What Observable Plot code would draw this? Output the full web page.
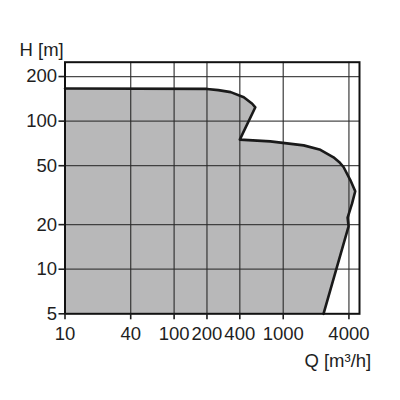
<!DOCTYPE html>
<html><head><meta charset="utf-8">
<script src="https://cdn.jsdelivr.net/npm/d3@7"></script>
<script src="https://cdn.jsdelivr.net/npm/@observablehq/plot@0.6"></script>
<style>body{margin:0;background:#fff}</style>
</head><body><div id="chart"></div>
<script>
// Boundary of the operating range (Q in m³/h, H in m)
const qValues = [10, 200, 254, 330, 435, 520, 555, 400, 760, 1540, 2190, 2890, 3250, 3570, 4120, 4570, 4270, 3890, 3970, 2340];
const hValues = [166, 165, 162, 157, 145, 131, 124, 75, 73, 68.6, 64, 57, 53, 49, 40, 33.6, 27.7, 22.3, 19.5, 5];
const xTicks = [10, 40, 100, 200, 400, 1000, 4000];
const yTicks = [5, 10, 20, 50, 100, 200];
const xGrid = [40, 100, 200, 400, 1000, 4000];
const yGrid = [10, 20, 50, 100, 200];
const xDomain = [10, 5000];
const yDomain = [5, 250];
const xLabel = "Q [m³/h]";
const yLabel = "H [m]";

const curve = qValues.map((q, i) => ({q, h: hValues[i]}));
const polygon = [...curve, {q: xDomain[0], h: yDomain[0]}];

const font = "Liberation Sans, Arial, Helvetica, sans-serif";
const fs = 18.5;
const chart = Plot.plot({
  width: 400, height: 400,
  marginLeft: 64.5, marginRight: 41, marginTop: 61.7, marginBottom: 86.7,
  style: {fontFamily: font, fontSize: fs + "px", color: "#1e1e1e", background: "#fff"},
  x: {type: "log", domain: xDomain},
  y: {type: "log", domain: yDomain},
  marks: [
    Plot.line(polygon, {x: "q", y: "h", fill: "#b8b8b9", stroke: "none"}),
    Plot.gridX(xGrid, {stroke: "#2a2a2a", strokeOpacity: 0.85, strokeWidth: 1.3}),
    Plot.gridY(yGrid, {stroke: "#2a2a2a", strokeOpacity: 0.85, strokeWidth: 1.3}),
    Plot.line(curve, {x: "q", y: "h", stroke: "#1a1a1a", strokeWidth: 2.6, strokeLinejoin: "round"}),
    Plot.frame({stroke: "#111", strokeWidth: 2}),
    Plot.axisX({ticks: xTicks, tickSize: 6, tickPadding: 7.5, tickFormat: d => String(d), label: null, fontSize: fs, strokeWidth: 1.6}),
    Plot.axisY({ticks: yTicks, tickSize: 6, tickPadding: 2, tickFormat: d => String(d), label: null, fontSize: fs, strokeWidth: 1.6}),
    Plot.text([yLabel], {frameAnchor: "top-left", dx: -45.5, dy: -12, textAnchor: "start", lineAnchor: "middle", fontSize: fs}),
    Plot.text([xLabel], {frameAnchor: "bottom-right", dx: 11.7, dy: 47, textAnchor: "end", lineAnchor: "middle", fontSize: fs})
  ]
});
document.getElementById("chart").appendChild(chart);
</script>
</body></html>
